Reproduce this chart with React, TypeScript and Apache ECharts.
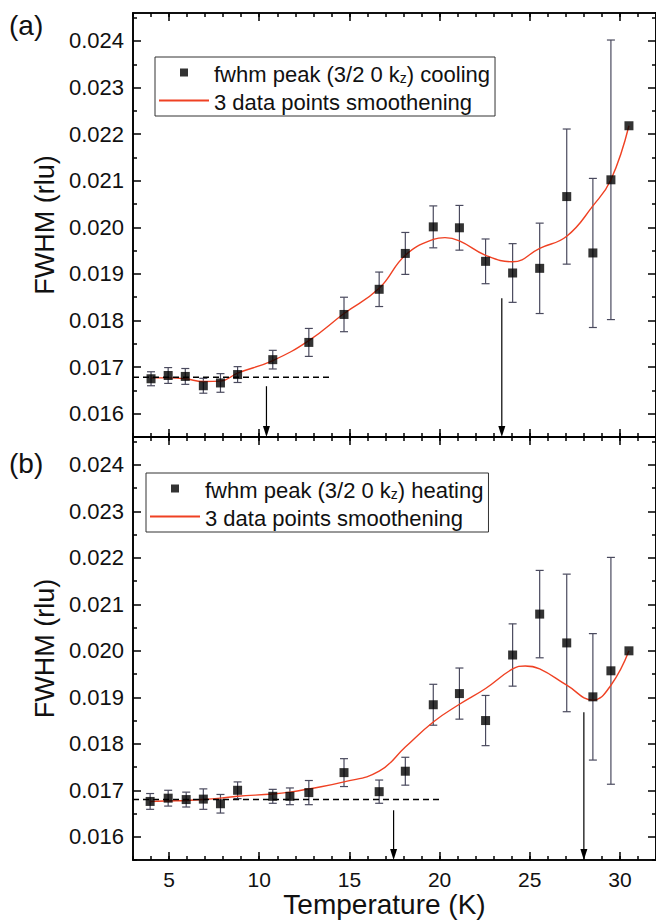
import React, { useEffect, useRef } from "react";
import * as echarts from "echarts";

const FONT = '"Liberation Sans", Arial, Helvetica, sans-serif';

// ---- panel (a): cooling ----
const tempCool = [4.0, 4.95, 5.9, 6.9, 7.85, 8.8, 10.75, 12.75, 14.7, 16.65, 18.1, 19.65, 21.1, 22.55, 24.05, 25.55, 27.05, 28.5, 29.5, 30.5];
const fwhmCool = [0.01675, 0.01682, 0.0168, 0.0166, 0.01666, 0.01684, 0.01716, 0.01753, 0.01813, 0.01867, 0.01944, 0.02001, 0.01999, 0.01927, 0.01902, 0.01912, 0.02066, 0.01945, 0.02102, 0.02218];
const errCool = [0.00015, 0.00017, 0.00017, 0.00016, 0.0002, 0.00017, 0.0002, 0.0003, 0.00037, 0.00037, 0.00045, 0.00045, 0.00048, 0.00048, 0.00063, 0.00097, 0.00145, 0.0016, 0.003, 0];
// smoothed curve
const smoothCoolX = [4.0, 4.95, 5.9, 6.9, 7.85, 8.8, 10.75, 12.75, 14.7, 16.65, 18.1, 19.65, 20.3, 21.1, 22.55, 24.05, 25.55, 27.05, 28.5, 29.5, 30.5];
const smoothCool = [0.01677, 0.01677, 0.01675, 0.01669, 0.0167, 0.01687, 0.01714, 0.01757, 0.01815, 0.01869, 0.0194, 0.01974, 0.01978, 0.01971, 0.0194, 0.01926, 0.01955, 0.01981, 0.02046, 0.02102, 0.02218];
const plateauCoolX = [3, 13.9];
const plateauCoolY = 0.01678;
const arrowCoolX = [10.4, 23.45];
const arrowCoolFrom = [0.01659, 0.01848];

// ---- panel (b): heating ----
const tempHeat = [3.95, 4.95, 5.95, 6.9, 7.85, 8.8, 10.75, 11.7, 12.75, 14.7, 16.65, 18.1, 19.65, 21.1, 22.55, 24.05, 25.55, 27.05, 28.5, 29.5, 30.5];
const fwhmHeat = [0.01676, 0.01683, 0.0168, 0.01681, 0.01671, 0.017, 0.01687, 0.01687, 0.01695, 0.01738, 0.01697, 0.01741, 0.01884, 0.01908, 0.0185, 0.01991, 0.02079, 0.02017, 0.01901, 0.01957, 0.02];
const errHeat = [0.00017, 0.00017, 0.00016, 0.00022, 0.0002, 0.00018, 0.00015, 0.00018, 0.00026, 0.0003, 0.00025, 0.0003, 0.00044, 0.00055, 0.00054, 0.00067, 0.00094, 0.00148, 0.00136, 0.00244, 0];
const smoothHeatX = [3.95, 4.95, 5.95, 6.9, 7.85, 8.8, 10.75, 11.7, 12.75, 14.7, 16.65, 18.1, 19.65, 21.1, 22.55, 24.05, 24.75, 25.55, 27.05, 28.5, 29.5, 30.5];
const smoothHeat = [0.01676, 0.01677, 0.01678, 0.0168, 0.01683, 0.01687, 0.01692, 0.01696, 0.01703, 0.01718, 0.01741, 0.01793, 0.01847, 0.01885, 0.01919, 0.01961, 0.019675, 0.01961, 0.01926, 0.01894, 0.01926, 0.02];
const plateauHeatX = [3, 20.1];
const plateauHeatY = 0.0168;
const arrowHeatX = [17.45, 28.0];
const arrowHeatFrom = [0.01657, 0.01868];

// ---- axes ----
const X_MIN = 3;
const X_MAX = 32;
const Y_MIN = 0.0155;
const Y_MAX = 0.0246;
const xMajorTicks = [5, 10, 15, 20, 25, 30];
const xMinorTicks = [3, 4, 5, 6, 7, 8, 9, 10, 11, 12, 13, 14, 15, 16, 17, 18, 19, 20, 21, 22, 23, 24, 25, 26, 27, 28, 29, 30, 31, 32];
const yMajorTicks = [0.016, 0.017, 0.018, 0.019, 0.02, 0.021, 0.022, 0.023, 0.024];
const yMinorTicks = [0.0155, 0.0165, 0.0175, 0.0185, 0.0195, 0.0205, 0.0215, 0.0225, 0.0235, 0.0245];

const legendText: Record<string, string> = {
  cool: "{m|fwhm peak (3/2 0 k}{s|z}{m|) cooling}",
  smoothCool: "{m|3 data points smoothening}",
  heat: "{m|fwhm peak (3/2 0 k}{s|z}{m|) heating}",
  smoothHeat: "{m|3 data points smoothening}",
};

const SQUARE = "path://M0,0L10,0L10,10L0,10Z";
const RED = "#ef4123";
const ERR = "#4a4a5e";

const tickLine = { color: "#000", width: 1.5 };

function makeX(grid: number, position: string, values: number[], len: number, labels: boolean, name?: string) {
  return {
    type: "value",
    gridIndex: grid,
    position,
    min: X_MIN,
    max: X_MAX,
    splitLine: { show: false },
    axisLine: { show: true, onZero: false, lineStyle: { color: "#000", width: 1.6 } },
    axisTick: { show: true, inside: true, length: len, customValues: values, lineStyle: tickLine },
    axisLabel: labels
      ? { show: true, customValues: values, fontSize: 21, color: "#111", fontFamily: FONT, margin: 9 }
      : { show: false },
    name: name || "",
    nameLocation: "middle",
    nameGap: 30,
    nameTextStyle: { fontSize: 28, color: "#111", fontFamily: FONT, padding: [0, 20, 0, 0] },
  };
}

function makeY(grid: number, position: string, values: number[], len: number, labels: boolean, name?: string) {
  return {
    type: "value",
    gridIndex: grid,
    position,
    min: Y_MIN,
    max: Y_MAX,
    splitLine: { show: false },
    axisLine: { show: true, onZero: false, lineStyle: { color: "#000", width: 1.6 } },
    axisTick: { show: true, inside: true, length: len, customValues: values, lineStyle: tickLine },
    axisLabel: labels
      ? {
          show: true,
          customValues: values,
          fontSize: 22,
          color: "#111",
          fontFamily: FONT,
          margin: 9,
          formatter: (v: number) => v.toFixed(3),
        }
      : { show: false },
    name: name || "",
    nameLocation: "middle",
    nameGap: 70,
    nameTextStyle: { fontSize: 27, color: "#111", fontFamily: FONT },
  };
}

function errorBarSeries(name: string, axis: number, xs: number[], ys: number[], es: number[]) {
  return {
    type: "custom",
    name,
    xAxisIndex: axis,
    yAxisIndex: axis,
    z: 2,
    clip: false,
    data: xs.map((x, i) => [x, ys[i], es[i]]),
    encode: { x: 0, y: 1 },
    renderItem: (_p: any, api: any) => {
      const x = api.value(0);
      const y = api.value(1);
      const e = api.value(2);
      if (!e) return { type: "group", children: [] };
      const top = api.coord([x, y + e]);
      const bot = api.coord([x, y - e]);
      const hw = 4;
      const style = { stroke: ERR, lineWidth: 1.2 };
      return {
        type: "group",
        children: [
          { type: "line", shape: { x1: top[0], y1: top[1], x2: bot[0], y2: bot[1] }, style },
          { type: "line", shape: { x1: top[0] - hw, y1: top[1], x2: top[0] + hw, y2: top[1] }, style },
          { type: "line", shape: { x1: bot[0] - hw, y1: bot[1], x2: bot[0] + hw, y2: bot[1] }, style },
        ],
      };
    },
  };
}

function arrowSeries(axis: number, xs: number[], from: number[]) {
  return {
    type: "custom",
    xAxisIndex: axis,
    yAxisIndex: axis,
    z: 6,
    clip: false,
    silent: true,
    data: xs.map((x, i) => [x, from[i]]),
    encode: { x: 0, y: 1 },
    renderItem: (_p: any, api: any) => {
      const x = api.value(0);
      const y = api.value(1);
      const a = api.coord([x, y]);
      const b = api.coord([x, Y_MIN]);
      const headLen = 11;
      const hw = 3.5;
      return {
        type: "group",
        children: [
          { type: "line", shape: { x1: a[0], y1: a[1], x2: b[0], y2: b[1] - headLen + 1 }, style: { stroke: "#000", lineWidth: 1.2 } },
          {
            type: "polygon",
            shape: { points: [[b[0] - hw, b[1] - headLen], [b[0] + hw, b[1] - headLen], [b[0], b[1]]] },
            style: { fill: "#000" },
          },
        ],
      };
    },
  };
}

function panelSeries(axis: number, key: string, smoothKey: string, xs: number[], ys: number[], es: number[], sx: number[], sm: number[], px: number[], py: number, ax: number[], af: number[]) {
  return [
    errorBarSeries(key + "err", axis, xs, ys, es),
    {
      type: "line",
      name: smoothKey,
      xAxisIndex: axis,
      yAxisIndex: axis,
      z: 3,
      smooth: 0.45,
      symbol: "none",
      data: sx.map((x, i) => [x, sm[i]]),
      lineStyle: { color: RED, width: 1.4 },
      itemStyle: { color: RED },
    },
    {
      type: "scatter",
      name: key,
      xAxisIndex: axis,
      yAxisIndex: axis,
      z: 5,
      symbol: "rect",
      symbolSize: 9,
      data: xs.map((x, i) => [x, ys[i]]),
      itemStyle: { color: "#000" },
    },
    {
      type: "line",
      name: key + "plateau",
      xAxisIndex: axis,
      yAxisIndex: axis,
      z: 4,
      symbol: "none",
      data: px.map((x) => [x, py]),
      lineStyle: { color: "#000", width: 1.5, type: [6, 4] },
    },
    arrowSeries(axis, ax, af),
  ];
}

function makeLegend(left: number, top: number, key: string, smoothKey: string) {
  return {
    orient: "vertical",
    left,
    top,
    data: [
      { name: key, icon: SQUARE },
      { name: smoothKey, itemStyle: { opacity: 0, borderWidth: 0 } },
    ],
    itemWidth: 50,
    itemHeight: 8,
    itemGap: 6,
    selectedMode: false,
    borderColor: "#333",
    borderWidth: 1,
    borderRadius: 0,
    padding: [3, 5, 3, 3],
    formatter: (n: string) => legendText[n],
    textStyle: {
      color: "#111",
      fontFamily: FONT,
      rich: {
        m: { fontSize: 22, lineHeight: 25, fontFamily: FONT, color: "#111", verticalAlign: "bottom" },
        s: { fontSize: 14, lineHeight: 14, fontFamily: FONT, color: "#111", verticalAlign: "bottom", padding: [11, 0, 0, 0] },
      },
    },
  };
}

export default function App() {
  const ref = useRef<HTMLDivElement>(null);
  useEffect(() => {
    document.body.style.margin = "0";
    const chart = echarts.init(ref.current!, null, { renderer: "svg" });
    chart.setOption({
      animation: false,
      backgroundColor: "#fff",
      grid: [
        { left: 133, top: 13, width: 524, height: 424 },
        { left: 133, top: 437, width: 524, height: 423 },
      ],
      xAxis: [
        makeX(0, "bottom", xMajorTicks, 8, false),
        makeX(0, "bottom", xMinorTicks, 4, false),
        makeX(0, "top", xMajorTicks, 8, false),
        makeX(0, "top", xMinorTicks, 4, false),
        makeX(1, "bottom", xMajorTicks, 8, true, "Temperature (K)"),
        makeX(1, "bottom", xMinorTicks, 4, false),
        makeX(1, "top", xMajorTicks, 8, false),
        makeX(1, "top", xMinorTicks, 4, false),
      ],
      yAxis: [
        makeY(0, "left", yMajorTicks, 8, true, "FWHM (rlu)"),
        makeY(0, "left", yMinorTicks, 4, false),
        makeY(0, "right", yMajorTicks, 8, false),
        makeY(0, "right", yMinorTicks, 4, false),
        makeY(1, "left", yMajorTicks, 8, true, "FWHM (rlu)"),
        makeY(1, "left", yMinorTicks, 4, false),
        makeY(1, "right", yMajorTicks, 8, false),
        makeY(1, "right", yMinorTicks, 4, false),
      ],
      legend: [makeLegend(155, 57, "cool", "smoothCool"), makeLegend(146, 473, "heat", "smoothHeat")],
      graphic: [
        { type: "text", left: 9, top: 11, style: { text: "(a)", fontSize: 28, fontFamily: FONT, fill: "#111" } },
        { type: "text", left: 9, top: 449, style: { text: "(b)", fontSize: 28, fontFamily: FONT, fill: "#111" } },
      ],
      series: [
        ...panelSeries(0, "cool", "smoothCool", tempCool, fwhmCool, errCool, smoothCoolX, smoothCool, plateauCoolX, plateauCoolY, arrowCoolX, arrowCoolFrom),
        ...panelSeries(4, "heat", "smoothHeat", tempHeat, fwhmHeat, errHeat, smoothHeatX, smoothHeat, plateauHeatX, plateauHeatY, arrowHeatX, arrowHeatFrom),
      ],
    });
    return () => chart.dispose();
  }, []);
  return <div ref={ref} style={{ position: "absolute", left: 0, top: 0, width: 656, height: 923 }} />;
}
